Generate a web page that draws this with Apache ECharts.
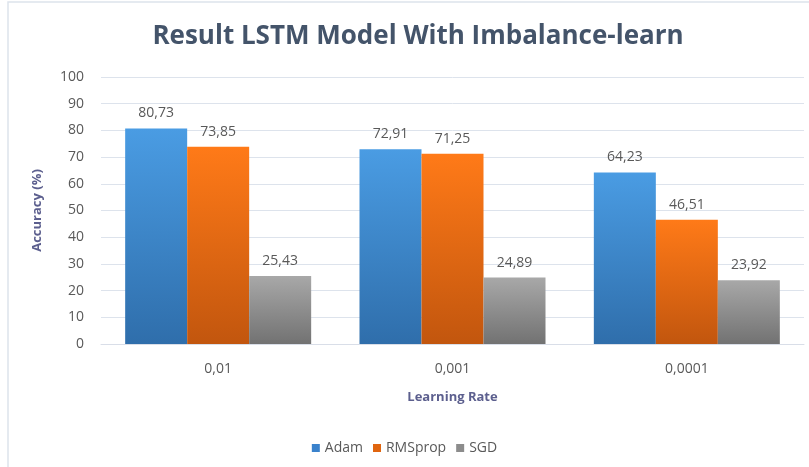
<!DOCTYPE html>
<html>
<head>
<meta charset="utf-8">
<script src="https://cdn.jsdelivr.net/npm/echarts@6/dist/echarts.min.js"></script>
<style>
  html, body { margin: 0; padding: 0; background: #fff; }
  #chart { width: 809px; height: 467px; }
</style>
</head>
<body>
<div id="chart"></div>
<script>
var categories = ['0,01', '0,001', '0,0001'];
var adam = [80.73, 72.91, 64.23];
var rmsprop = [73.85, 71.25, 46.51];
var sgd = [25.43, 24.89, 23.92];

var chart = echarts.init(document.getElementById('chart'));

function grad(top, bottom) {
  return new echarts.graphic.LinearGradient(0, 0, 0, 1, [
    { offset: 0, color: top },
    { offset: 1, color: bottom }
  ]);
}

function fmt(p) {
  return p.value.toFixed(2).replace('.', ',');
}

var labelStyle = {
  show: true,
  position: 'top',
  distance: 8,
  color: '#595959',
  fontSize: 14,
  fontFamily: 'Open Sans',
  formatter: fmt
};

function makeSeries(name, data, top, bottom) {
  return {
    name: name,
    type: 'bar',
    data: data,
    barWidth: 62,
    barGap: '0%',
    itemStyle: { color: grad(top, bottom) },
    label: labelStyle,
    emphasis: { disabled: true }
  };
}

var option = {
  animation: false,
  backgroundColor: '#fff',
  title: {
    text: 'Result LSTM Model With Imbalance-learn',
    left: 413,
    textAlign: 'center',
    top: 19,
    textStyle: {
      color: '#44546a',
      fontSize: 26,
      fontWeight: 'bold',
      fontFamily: 'Open Sans'
    }
  },
  legend: {
    bottom: 7,
    left: 'center',
    itemWidth: 8,
    itemHeight: 8,
    itemGap: 10,
    icon: 'rect',
    textStyle: { color: '#595959', fontSize: 14, fontFamily: 'Open Sans' },
    data: [
      { name: 'Adam', itemStyle: { color: '#3a82cc' } },
      { name: 'RMSprop', itemStyle: { color: '#e0650f' } },
      { name: 'SGD', itemStyle: { color: '#8c8c8c' } }
    ]
  },
  grid: { left: 101, right: 5, top: 77, bottom: 123 },
  xAxis: {
    type: 'category',
    data: categories,
    name: 'Learning Rate',
    nameLocation: 'middle',
    nameGap: 47,
    nameTextStyle: { color: '#5c5f8e', fontSize: 13, fontWeight: 'bold', fontFamily: 'Open Sans' },
    axisLine: { lineStyle: { color: '#d9dee8' } },
    axisTick: { show: false },
    axisLabel: { color: '#595959', fontSize: 14, margin: 18, fontFamily: 'Open Sans' }
  },
  yAxis: {
    type: 'value',
    min: 0,
    max: 100,
    interval: 10,
    name: 'Accuracy (%)',
    nameLocation: 'middle',
    nameGap: 57,
    nameTextStyle: { color: '#5c5f8e', fontSize: 13, fontWeight: 'bold', fontFamily: 'Open Sans' },
    axisLine: { show: false },
    axisTick: { show: false },
    axisLabel: { color: '#595959', fontSize: 14, margin: 17, fontFamily: 'Open Sans' },
    splitLine: { lineStyle: { color: '#dde3ec' } }
  },
  graphic: [{
    type: 'rect',
    shape: { x: 8, y: 2, width: 900, height: 600 },
    style: { fill: 'none', stroke: '#dde3ec', lineWidth: 1.5 },
    silent: true,
    z: -1
  }],
  series: [
    makeSeries('Adam', adam, '#4a9ce3', '#2f6eab'),
    makeSeries('RMSprop', rmsprop, '#ff7a18', '#c2560e'),
    makeSeries('SGD', sgd, '#a8a8a8', '#727272')
  ]
};

chart.setOption(option);
</script>
</body>
</html>
